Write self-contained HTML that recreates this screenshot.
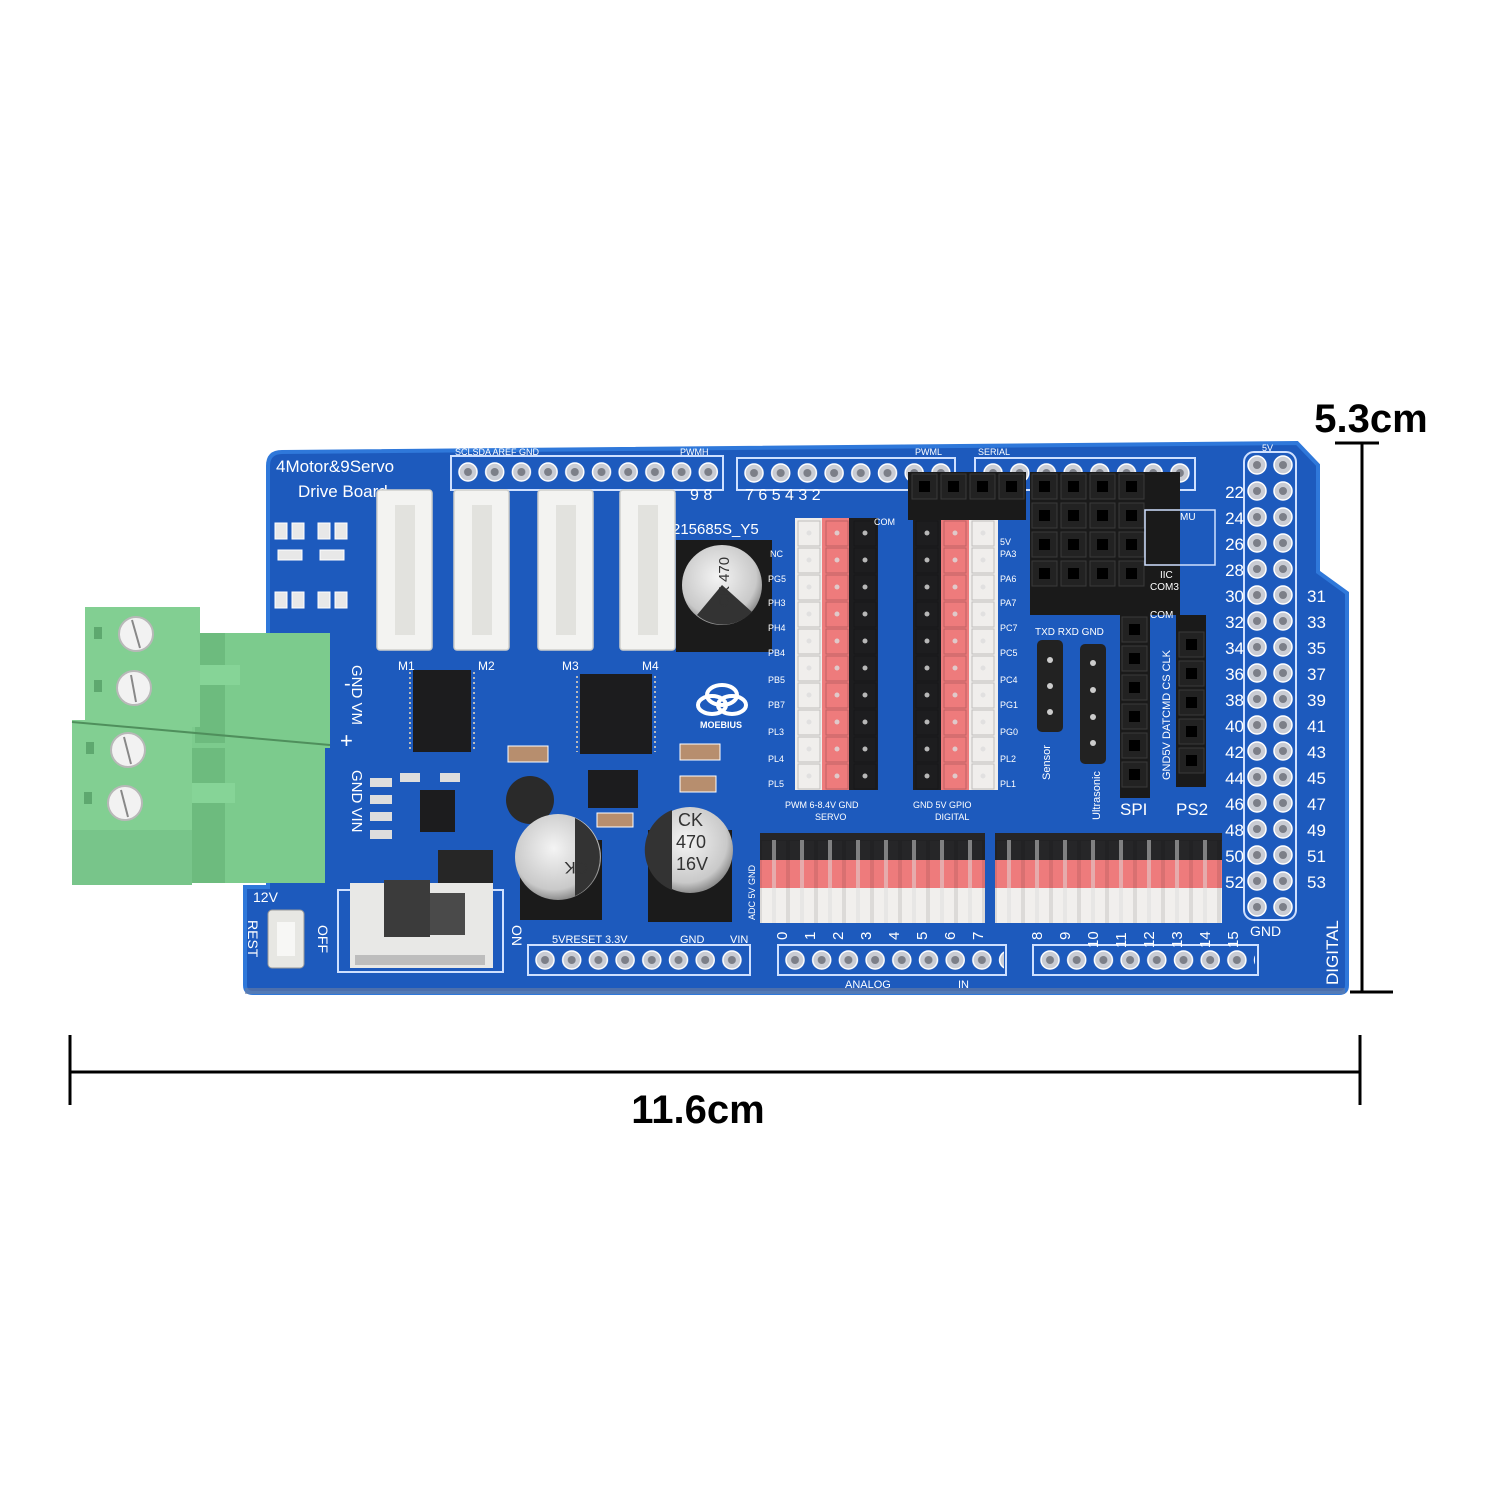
<!DOCTYPE html>
<html><head><meta charset="utf-8"><style>
html,body{margin:0;padding:0;background:#fff;}
svg{display:block;}
.t{font-family:"Liberation Sans",sans-serif;fill:#fff;}
</style></head><body>
<svg width="1500" height="1500" viewBox="0 0 1500 1500" xmlns="http://www.w3.org/2000/svg">
<defs>
<pattern id="pinH" x="0" y="0" width="26.7" height="30" patternUnits="userSpaceOnUse">
<circle cx="13" cy="15" r="9" fill="#c9ccd4" stroke="#fff" stroke-width="1.5"/><circle cx="13" cy="15" r="4" fill="#7c7f88"/></pattern>
<pattern id="pinV" x="0" y="0" width="26" height="26" patternUnits="userSpaceOnUse">
<circle cx="13" cy="13" r="9" fill="#c9ccd4" stroke="#fff" stroke-width="1.5"/><circle cx="13" cy="13" r="4" fill="#7c7f88"/></pattern>
<pattern id="hdrV" x="0" y="0" width="28" height="27" patternUnits="userSpaceOnUse">
<rect x="3" y="1" width="22" height="25" fill="none" stroke="rgba(0,0,0,.25)"/><circle cx="14" cy="13" r="2.5" fill="#ddd"/></pattern>
<pattern id="hdrH" x="0" y="0" width="28" height="90" patternUnits="userSpaceOnUse">
<rect x="1" y="0" width="26" height="90" fill="none" stroke="rgba(0,0,0,.25)"/><rect x="12" y="0" width="4" height="90" fill="#ddd" opacity=".7"/></pattern>
<pattern id="sock" x="0" y="0" width="29" height="29" patternUnits="userSpaceOnUse">
<rect x="2" y="2" width="25" height="25" fill="#222" stroke="#3a3a3a"/><rect x="9" y="9" width="11" height="11" fill="#000"/></pattern>
<radialGradient id="cap" cx="0.45" cy="0.4" r="0.6"><stop offset="0" stop-color="#f4f4f4"/><stop offset="0.8" stop-color="#c9c9c9"/><stop offset="1" stop-color="#8e8e8e"/></radialGradient>
</defs>

<!-- Board -->
<path d="M282,452 L1297,443 L1318,465 L1318,572 L1347,593 L1347,985 Q1347,993 1339,993 L253,993 Q245,993 245,985 L245,887 L268,887 L268,466 Q268,452 282,452 Z" fill="#1d5abd" stroke="#2f78da" stroke-width="4"/>
<rect x="245" y="988" width="1100" height="6" fill="#6c7da0" opacity=".6"/>

<text class="t" x="276" y="472" font-size="17">4Motor&amp;9Servo</text>
<text class="t" x="298" y="497" font-size="17">Drive Board</text>

<g fill="#e8e8e8" stroke="#fff" stroke-width="1">
<rect x="275" y="523" width="12" height="16"/><rect x="292" y="523" width="12" height="16"/>
<rect x="318" y="523" width="12" height="16"/><rect x="335" y="523" width="12" height="16"/>
<rect x="275" y="592" width="12" height="16"/><rect x="292" y="592" width="12" height="16"/>
<rect x="318" y="592" width="12" height="16"/><rect x="335" y="592" width="12" height="16"/>
<rect x="278" y="550" width="24" height="10"/><rect x="320" y="550" width="24" height="10"/>
</g>

<!-- Top headers -->
<rect x="451" y="456" width="272" height="34" fill="none" stroke="#cfe0ff" stroke-width="2"/>
<rect width="266" height="30" fill="url(#pinH)" transform="translate(455,457)"/>
<rect x="737" y="458" width="218" height="32" fill="none" stroke="#cfe0ff" stroke-width="2"/>
<rect width="212" height="30" fill="url(#pinH)" transform="translate(741,458)"/>
<rect x="975" y="458" width="220" height="32" fill="none" stroke="#cfe0ff" stroke-width="2"/>
<rect width="212" height="30" fill="url(#pinH)" transform="translate(980,458)"/>
<text class="t" x="455" y="455" font-size="9">SCLSDA AREF GND</text>
<text class="t" x="680" y="455" font-size="9">PWMH</text>
<text class="t" x="915" y="455" font-size="9">PWML</text>
<text class="t" x="978" y="455" font-size="9">SERIAL</text>
<text class="t" x="1262" y="451" font-size="9">5V</text>
<text class="t" x="745" y="500" font-size="16">7 6 5 4 3 2</text>
<text class="t" x="690" y="500" font-size="16">9 8</text>
<text class="t" x="672" y="534" font-size="15">215685S_Y5</text>

<!-- Green terminal blocks -->
<g>
<rect x="190" y="633" width="140" height="250" fill="#7ccb8d"/>
<rect x="195" y="633" width="30" height="110" fill="#6dbb7e"/>
<rect x="190" y="665" width="50" height="20" fill="#86d497"/>
<rect x="85" y="607" width="115" height="120" fill="#82cf92"/>
<rect x="190" y="748" width="135" height="135" fill="#7ccb8d"/>
<rect x="190" y="748" width="35" height="135" fill="#6dbb7e"/>
<rect x="185" y="783" width="50" height="20" fill="#86d497"/>
<rect x="72" y="720" width="120" height="165" fill="#82cf92"/>
<rect x="72" y="830" width="120" height="55" fill="#78c58a"/>
<rect x="325" y="748" width="5" height="135" fill="#1d5abd"/>
<line x1="72" y1="722" x2="330" y2="745" stroke="#4f8f5c" stroke-width="2"/>
<rect x="94" y="627" width="8" height="12" fill="#5ea86f"/><rect x="94" y="680" width="8" height="12" fill="#5ea86f"/>
<rect x="86" y="742" width="8" height="12" fill="#5ea86f"/><rect x="84" y="792" width="8" height="12" fill="#5ea86f"/>
<g fill="#f2f2f2" stroke="#b8b8b8" stroke-width="2">
<circle cx="136" cy="634" r="17"/><circle cx="134" cy="688" r="17"/>
<circle cx="128" cy="750" r="17"/><circle cx="125" cy="803" r="17"/></g>
<g stroke="#888" stroke-width="2"><line x1="132" y1="620" x2="140" y2="648"/><line x1="131" y1="675" x2="136" y2="702"/><line x1="124" y1="737" x2="131" y2="764"/><line x1="121" y1="790" x2="128" y2="817"/></g>
</g>
<text class="t" font-size="15" transform="translate(352,665) rotate(90)">GND  VM</text>
<text class="t" font-size="15" transform="translate(352,770) rotate(90)">GND  VIN</text>
<text class="t" x="344" y="690" font-size="20">-</text>
<text class="t" x="340" y="748" font-size="22">+</text>
<text class="t" x="253" y="902" font-size="14">12V</text>
<text class="t" font-size="14" transform="translate(248,920) rotate(90)">REST</text>
<text class="t" font-size="14" transform="translate(318,925) rotate(90)">OFF</text>
<text class="t" font-size="14" transform="translate(512,925) rotate(90)">ON</text>

<!-- White JST connectors -->
<g fill="#f3f3f1" stroke="#d0d0cc" stroke-width="1.5">
<rect x="377" y="490" width="55" height="160" rx="3"/><rect x="454" y="490" width="55" height="160" rx="3"/>
<rect x="538" y="490" width="55" height="160" rx="3"/><rect x="620" y="490" width="55" height="160" rx="3"/></g>
<g fill="#e2e2de"><rect x="395" y="505" width="20" height="130"/><rect x="472" y="505" width="20" height="130"/><rect x="556" y="505" width="20" height="130"/><rect x="638" y="505" width="20" height="130"/></g>
<text class="t" x="398" y="670" font-size="12">M1</text><text class="t" x="478" y="670" font-size="12">M2</text>
<text class="t" x="562" y="670" font-size="12">M3</text><text class="t" x="642" y="670" font-size="12">M4</text>

<!-- top cap -->
<rect x="676" y="540" width="96" height="112" fill="#1b1b1b"/>
<circle cx="722" cy="585" r="40" fill="url(#cap)"/>
<path d="M697,615 A40,40 0 0 0 752,612 L722,585Z" fill="#333"/>
<text x="700" y="592" font-size="15" fill="#333" font-family="Liberation Sans" transform="rotate(-90 722 585)">CK 470</text>

<!-- chips -->
<rect x="413" y="670" width="58" height="82" fill="#1c1c1e"/>
<rect x="580" y="674" width="72" height="80" fill="#1c1c1e"/>
<g stroke="#bbb" stroke-width="2" stroke-dasharray="2 3"><line x1="410" y1="672" x2="410" y2="750"/><line x1="474" y1="672" x2="474" y2="750"/><line x1="577" y1="676" x2="577" y2="752"/><line x1="655" y1="676" x2="655" y2="752"/></g>
<rect x="420" y="790" width="35" height="42" fill="#1c1c1e"/>
<rect x="438" y="850" width="55" height="35" fill="#262626"/>
<rect x="588" y="770" width="50" height="38" fill="#1c1c1e"/>
<circle cx="530" cy="800" r="24" fill="#2a2a2a"/>
<g fill="#b78e6e" stroke="#fff" stroke-width="1">
<rect x="508" y="746" width="40" height="16"/><rect x="680" y="744" width="40" height="16"/><rect x="680" y="776" width="36" height="16"/><rect x="597" y="813" width="36" height="14"/></g>
<g fill="#ddd"><rect x="370" y="778" width="22" height="9"/><rect x="370" y="795" width="22" height="9"/><rect x="370" y="812" width="22" height="9"/><rect x="370" y="830" width="22" height="9"/><rect x="400" y="773" width="20" height="9"/><rect x="440" y="773" width="20" height="9"/></g>
<g fill="none" stroke="#fff" stroke-width="4"><ellipse cx="722" cy="695" rx="15" ry="10"/><ellipse cx="712" cy="705" rx="14" ry="9"/><ellipse cx="732" cy="705" rx="14" ry="9"/></g>
<text class="t" x="700" y="728" font-size="9" font-weight="bold">MOEBIUS</text>

<!-- bottom caps -->
<rect x="520" y="840" width="82" height="80" fill="#1b1b1b"/><rect x="648" y="830" width="84" height="92" fill="#1b1b1b"/>
<circle cx="558" cy="857" r="43" fill="url(#cap)"/>
<path d="M575,818 A43,43 0 0 1 575,896Z" fill="#333"/>
<text x="528" y="852" font-size="17" fill="#333" font-family="Liberation Sans" transform="rotate(180 558 857)">CK</text>
<circle cx="690" cy="850" r="43" fill="url(#cap)"/>
<path d="M672,810 A43,43 0 0 0 672,890Z" fill="#333"/>
<text x="678" y="826" font-size="18" fill="#333" font-family="Liberation Sans">CK</text>
<text x="676" y="848" font-size="18" fill="#333" font-family="Liberation Sans">470</text>
<text x="676" y="870" font-size="18" fill="#333" font-family="Liberation Sans">16V</text>

<!-- switch + reset -->
<rect x="338" y="890" width="165" height="82" fill="none" stroke="#cfe0ff" stroke-width="2"/>
<rect x="350" y="883" width="143" height="85" fill="#e8e8e6"/>
<rect x="355" y="955" width="130" height="10" fill="#bdbdbd"/>
<rect x="430" y="893" width="35" height="42" fill="#4a4a4a"/>
<rect x="384" y="880" width="46" height="57" fill="#3b3b3b"/>
<rect x="268" y="910" width="36" height="58" rx="4" fill="#e7e7e3" stroke="#999"/>
<rect x="277" y="922" width="18" height="34" fill="#f7f7f5"/>

<!-- Servo headers -->
<rect x="795" y="518" width="27" height="272" fill="#f0eeec"/>
<rect x="822" y="518" width="27" height="272" fill="#ee7b7c"/>
<rect x="849" y="518" width="29" height="272" fill="#1d1d1f"/>
<rect width="83" height="270" fill="url(#hdrV)" opacity=".8" transform="translate(795,520)"/>
<rect x="913" y="518" width="28" height="272" fill="#1d1d1f"/>
<rect x="941" y="518" width="28" height="272" fill="#ee7b7c"/>
<rect x="969" y="518" width="29" height="272" fill="#f0eeec"/>
<rect width="85" height="270" fill="url(#hdrV)" opacity=".8" transform="translate(913,520)"/>
<g class="t" font-size="9">
<text x="770" y="557">NC</text><text x="768" y="582">PG5</text><text x="768" y="606">PH3</text><text x="768" y="631">PH4</text><text x="768" y="656">PB4</text><text x="768" y="683">PB5</text><text x="768" y="708">PB7</text><text x="768" y="735">PL3</text><text x="768" y="762">PL4</text><text x="768" y="787">PL5</text>
<text x="1000" y="545">5V</text><text x="1000" y="557">PA3</text><text x="1000" y="582">PA6</text><text x="1000" y="606">PA7</text><text x="1000" y="631">PC7</text><text x="1000" y="656">PC5</text><text x="1000" y="683">PC4</text><text x="1000" y="708">PG1</text><text x="1000" y="735">PG0</text><text x="1000" y="762">PL2</text><text x="1000" y="787">PL1</text>
<text x="874" y="525">COM</text>
<text x="785" y="808">PWM 6-8.4V GND</text><text x="815" y="820">SERVO</text>
<text x="913" y="808">GND  5V  GPIO</text><text x="935" y="820">DIGITAL</text>
</g>

<!-- black sockets -->
<rect x="908" y="472" width="118" height="48" fill="#1a1a1a"/>
<rect width="116" height="29" fill="url(#sock)" transform="translate(910,472)"/>
<rect x="1030" y="472" width="150" height="143" fill="#1a1a1a"/>
<rect width="116" height="116" fill="url(#sock)" transform="translate(1030,472)"/>
<rect x="1145" y="510" width="70" height="55" fill="none" stroke="#cfe0ff" stroke-width="1.5"/>
<g class="t" font-size="10"><text x="1180" y="520">MU</text><text x="1160" y="578">IIC</text><text x="1150" y="590">COM3</text><text x="1150" y="618">COM</text>
<text x="1035" y="635">TXD  RXD GND</text></g>

<!-- sensor / ultrasonic -->
<rect x="1037" y="640" width="26" height="92" rx="5" fill="#222"/>
<rect x="1080" y="644" width="26" height="120" rx="5" fill="#222"/>
<g fill="#ccc"><circle cx="1050" cy="660" r="3"/><circle cx="1050" cy="686" r="3"/><circle cx="1050" cy="712" r="3"/><circle cx="1093" cy="663" r="3"/><circle cx="1093" cy="690" r="3"/><circle cx="1093" cy="717" r="3"/><circle cx="1093" cy="743" r="3"/></g>
<text class="t" font-size="11" transform="translate(1050,780) rotate(-90)">Sensor</text>
<text class="t" font-size="11" transform="translate(1100,820) rotate(-90)">Ultrasonic</text>
<!-- SPI / PS2 -->
<rect x="1120" y="608" width="30" height="190" fill="#1a1a1a"/>
<rect width="29" height="174" fill="url(#sock)" transform="translate(1120,615)"/>
<rect x="1176" y="615" width="30" height="172" fill="#1a1a1a"/>
<rect width="29" height="145" fill="url(#sock)" transform="translate(1177,630)"/>
<text class="t" font-size="11" transform="translate(1170,780) rotate(-90)">GND5V DATCMD CS CLK</text>
<text class="t" x="1120" y="815" font-size="17">SPI</text>
<text class="t" x="1176" y="815" font-size="17">PS2</text>

<!-- bottom horizontal pin blocks -->
<g>
<rect x="760" y="833" width="225" height="27" fill="#262628"/>
<rect x="760" y="860" width="225" height="28" fill="#ee7b7c"/>
<rect x="760" y="888" width="225" height="35" fill="#f1efed"/>
<rect width="225" height="83" fill="url(#hdrH)" opacity=".7" transform="translate(760,840)"/>
<rect x="995" y="833" width="227" height="27" fill="#262628"/>
<rect x="995" y="860" width="227" height="28" fill="#ee7b7c"/>
<rect x="995" y="888" width="227" height="35" fill="#f1efed"/>
<rect width="227" height="83" fill="url(#hdrH)" opacity=".7" transform="translate(995,840)"/>
</g>
<text class="t" font-size="9" transform="translate(755,920) rotate(-90)">ADC   5V GND</text>

<!-- bottom rows -->
<rect x="528" y="945" width="222" height="30" fill="none" stroke="#cfe0ff" stroke-width="2"/>
<rect width="215" height="30" fill="url(#pinH)" transform="translate(532,945)"/>
<rect x="778" y="945" width="228" height="30" fill="none" stroke="#cfe0ff" stroke-width="2"/>
<rect width="222" height="30" fill="url(#pinH)" transform="translate(782,945)"/>
<rect x="1033" y="945" width="225" height="30" fill="none" stroke="#cfe0ff" stroke-width="2"/>
<rect width="218" height="30" fill="url(#pinH)" transform="translate(1037,945)"/>
<g class="t" font-size="11"><text x="552" y="943">5VRESET 3.3V</text><text x="680" y="943">GND</text><text x="730" y="943">VIN</text>
<text x="845" y="988">ANALOG</text><text x="958" y="988">IN</text></g>
<g class="t" font-size="15">
<text transform="translate(787,940) rotate(-90)">0</text><text transform="translate(815,940) rotate(-90)">1</text><text transform="translate(843,940) rotate(-90)">2</text><text transform="translate(871,940) rotate(-90)">3</text><text transform="translate(899,940) rotate(-90)">4</text><text transform="translate(927,940) rotate(-90)">5</text><text transform="translate(955,940) rotate(-90)">6</text><text transform="translate(983,940) rotate(-90)">7</text>
<text transform="translate(1042,940) rotate(-90)">8</text><text transform="translate(1070,940) rotate(-90)">9</text><text transform="translate(1098,948) rotate(-90)">10</text><text transform="translate(1126,948) rotate(-90)">11</text><text transform="translate(1154,948) rotate(-90)">12</text><text transform="translate(1182,948) rotate(-90)">13</text><text transform="translate(1210,948) rotate(-90)">14</text><text transform="translate(1238,948) rotate(-90)">15</text>
</g>

<!-- right double header -->
<rect x="1244" y="452" width="52" height="468" rx="10" fill="none" stroke="#cfe0ff" stroke-width="2"/>
<rect width="52" height="468" fill="url(#pinV)" transform="translate(1257,452)" style="display:none"/>
<rect width="52" height="468" fill="url(#pinV)" transform="translate(1244,452)"/>
<g class="t" font-size="17" text-anchor="end">
<text x="1244" y="498">22</text><text x="1244" y="524">24</text><text x="1244" y="550">26</text><text x="1244" y="576">28</text><text x="1244" y="602">30</text><text x="1244" y="628">32</text><text x="1244" y="654">34</text><text x="1244" y="680">36</text><text x="1244" y="706">38</text><text x="1244" y="732">40</text><text x="1244" y="758">42</text><text x="1244" y="784">44</text><text x="1244" y="810">46</text><text x="1244" y="836">48</text><text x="1244" y="862">50</text><text x="1244" y="888">52</text>
</g>
<g class="t" font-size="17">
<text x="1307" y="602">31</text><text x="1307" y="628">33</text><text x="1307" y="654">35</text><text x="1307" y="680">37</text><text x="1307" y="706">39</text><text x="1307" y="732">41</text><text x="1307" y="758">43</text><text x="1307" y="784">45</text><text x="1307" y="810">47</text><text x="1307" y="836">49</text><text x="1307" y="862">51</text><text x="1307" y="888">53</text>
</g>
<text class="t" x="1250" y="936" font-size="14">GND</text>
<text class="t" font-size="17" transform="translate(1338,985) rotate(-90)">DIGITAL</text>

<!-- dimension lines -->
<g stroke="#000" stroke-width="3">
<line x1="70" y1="1072" x2="1360" y2="1072"/>
<line x1="70" y1="1035" x2="70" y2="1105"/>
<line x1="1360" y1="1035" x2="1360" y2="1105"/>
<line x1="1362" y1="443" x2="1362" y2="992"/>
<line x1="1335" y1="443" x2="1379" y2="443"/>
<line x1="1350" y1="992" x2="1393" y2="992"/>
</g>
<text x="698" y="1123" font-size="40" font-weight="bold" text-anchor="middle" font-family="Liberation Sans, sans-serif" fill="#000">11.6cm</text>
<text x="1371" y="432" font-size="40" font-weight="bold" text-anchor="middle" font-family="Liberation Sans, sans-serif" fill="#000">5.3cm</text>
</svg>
</body></html>
